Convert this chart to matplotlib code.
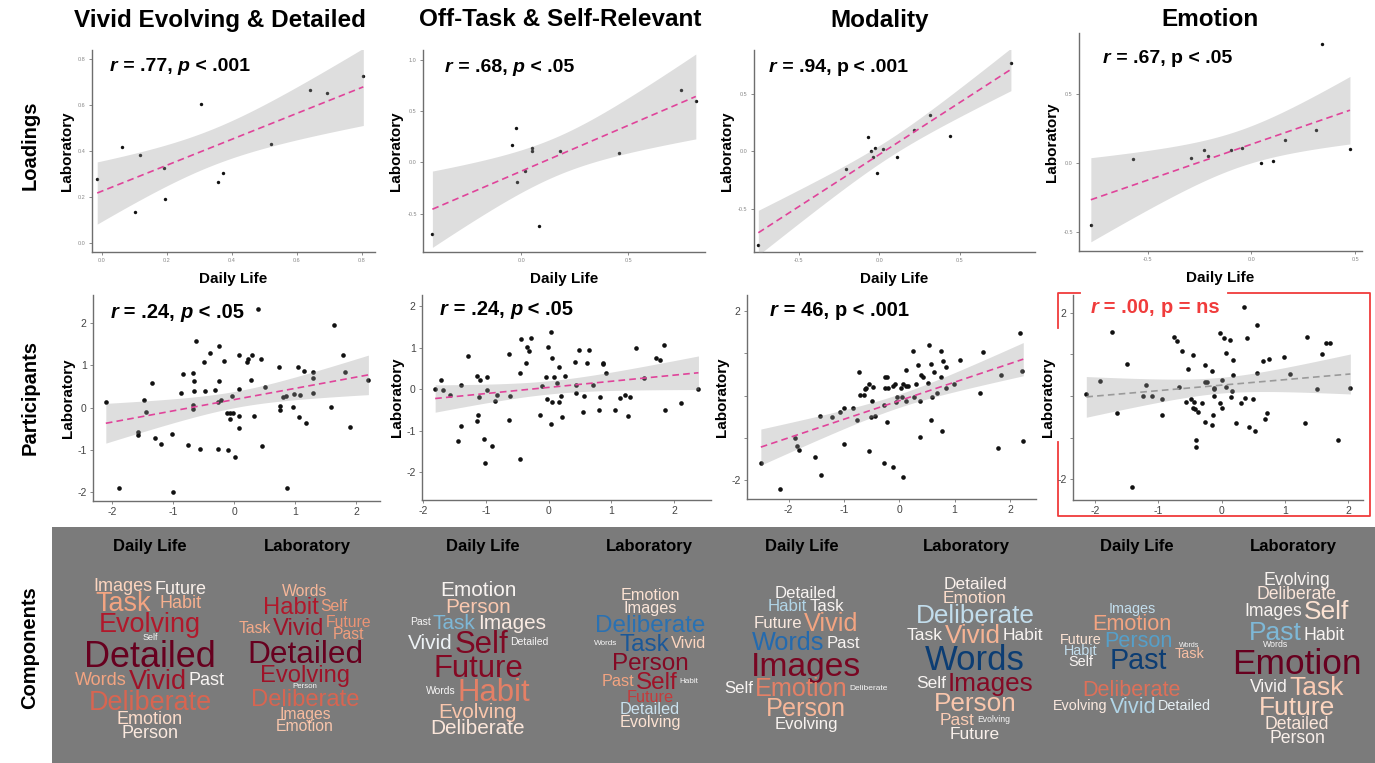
import numpy as np
import matplotlib
matplotlib.use("Agg")
import matplotlib.pyplot as plt
from matplotlib.patches import Rectangle
from matplotlib.colors import Normalize
from matplotlib.offsetbox import TextArea, HPacker, AnchoredOffsetbox

plt.rcParams['font.family'] = ['Liberation Sans', 'DejaVu Sans']

W, H = 1375, 763

titles = ["Vivid Evolving & Detailed", "Off-Task & Self-Relevant", "Modality", "Emotion"]

# ---- component loadings (daily life vs laboratory) ----
vivid_load_dl = [-0.015, 0.062, 0.10, 0.118, 0.19, 0.195, 0.305, 0.356, 0.374, 0.52, 0.64, 0.693, 0.805]
vivid_load_lab = [0.28, 0.419, 0.133, 0.383, 0.328, 0.191, 0.606, 0.267, 0.304, 0.429, 0.665, 0.652, 0.729]
offtask_load_dl = [-0.417, -0.045, -0.025, -0.02, 0.016, 0.047, 0.048, 0.081, 0.178, 0.458, 0.747, 0.816]
offtask_load_lab = [-0.701, 0.172, 0.338, -0.195, -0.084, 0.110, 0.140, -0.623, 0.110, 0.091, 0.701, 0.597]
modality_load_dl = [-0.753, -0.21, -0.073, -0.052, -0.037, -0.025, -0.017, 0.025, 0.112, 0.218, 0.313, 0.442, 0.819]
modality_load_lab = [-0.815, -0.150, 0.121, 0.003, -0.049, 0.032, -0.188, 0.020, -0.046, 0.188, 0.315, 0.130, 0.769]
emotion_load_dl = [-0.773, -0.569, -0.290, -0.227, -0.208, -0.100, -0.047, 0.044, 0.102, 0.160, 0.311, 0.340, 0.474]
emotion_load_lab = [-0.443, 0.029, 0.036, 0.096, 0.053, 0.096, 0.108, 0.0, 0.017, 0.169, 0.243, 0.863, 0.106]

# ---- participant scores ----
vivid_part_dl = [-2.10, -1.88, -1.57, -1.57, -1.48, -1.45, -1.35, -1.29, -1.20, -1.01,
                 -1.00, -0.87, -0.84, -0.75, -0.67, -0.65, -0.65, -0.68, -0.67, -0.63,
                 -0.55, -0.50, -0.47, -0.39, -0.31, -0.27, -0.27, -0.25, -0.24, -0.21,
                 -0.16, -0.11, -0.10, -0.07, -0.06, -0.02, -0.04, 0.01, 0.08, 0.08,
                 0.08, 0.08, 0.22, 0.23, 0.27, 0.29, 0.32, 0.40, 0.44, 0.46,
                 0.51, 0.74, 0.75, 0.76, 0.80, 0.85, 0.87, 0.97, 0.98, 1.05,
                 1.06, 1.08, 1.15, 1.17, 1.29, 1.30, 1.30, 1.59, 1.64, 1.79,
                 1.82, 1.90, 2.20]
vivid_part_lab = [0.12, -1.91, -0.57, -0.65, 0.18, -0.10, 0.57, -0.73, -0.87, -0.62,
                  -1.99, 0.35, 0.79, -0.88, 0.82, 0.62, 0.39, -0.03, 0.07, 1.58,
                  -0.99, 1.07, 0.40, 1.28, 0.42, 0.12, -0.99, 1.45, 0.62, 0.17,
                  1.10, -0.13, -1.00, -0.13, -0.28, -0.13, 0.28, -1.16, 1.23, 0.44,
                  -0.19, -0.48, 1.07, 1.15, 0.66, 1.24, -0.20, 2.32, 1.15, -0.90,
                  0.49, 0.96, 0.03, -0.05, 0.25, 0.28, -1.91, 0.01, 0.32, 0.95,
                  -0.23, 0.30, 0.87, -0.36, 0.34, 0.69, 0.84, 0.02, 1.95, 1.23,
                  0.84, -0.46, 0.65]
offtask_part_dl = [-1.81, -1.71, -1.69, -1.57, -1.45, -1.40, -1.39, -1.28, -1.15, -1.14,
                   -1.12, -1.11, -1.10, -1.03, -1.02, -0.99, -0.98, -0.86, -0.90, -0.83,
                   -0.64, -0.63, -0.62, -0.45, -0.45, -0.44, -0.36, -0.35, -0.31, -0.28,
                   -0.14, -0.10, -0.04, -0.02, -0.01, 0.03, 0.04, 0.05, 0.06, 0.09,
                   0.14, 0.16, 0.17, 0.20, 0.21, 0.26, 0.42, 0.43, 0.44, 0.48,
                   0.55, 0.56, 0.61, 0.64, 0.70, 0.80, 0.82, 0.86, 0.87, 0.91,
                   1.06, 1.14, 1.22, 1.26, 1.29, 1.39, 1.52, 1.72, 1.78, 1.84,
                   1.85, 2.11, 2.39]
offtask_part_lab = [0.00, 0.22, -0.02, -0.14, -1.25, -0.89, 0.10, 0.79, -0.76, 0.32,
                    -0.61, -0.18, 0.22, -1.20, -1.79, 0.30, -0.02, -0.28, -1.37, -0.13,
                    -0.75, 0.86, -0.16, 0.39, -1.69, 1.22, 0.63, 1.01, 0.93, 1.24,
                    -0.61, 0.07, 0.30, -0.23, 1.02, 1.38, -0.85, -0.32, 0.74, 0.30,
                    0.15, 0.54, -0.32, -0.17, -0.67, 0.33, 0.65, -0.08, 0.10, 0.94,
                    -0.54, -0.17, 0.62, 0.94, 0.10, -0.50, -0.18, 0.62, 0.60, 0.38,
                    -0.49, -0.21, -0.15, -0.65, -0.18, 1.00, 0.28, 0.76, 0.70, 1.06,
                    -0.51, -0.34, 0.00]
modality_part_dl = [-2.50, -2.15, -1.88, -1.85, -1.81, -1.53, -1.41, -1.43, -1.22, -1.07,
                    -1.00, -0.99, -0.83, -0.76, -0.73, -0.70, -0.63, -0.62, -0.60, -0.54,
                    -0.50, -0.51, -0.47, -0.43, -0.55, -0.28, -0.27, -0.26, -0.22, -0.26,
                    -0.20, -0.22, -0.12, -0.12, -0.08, -0.05, -0.04, 0.03, 0.05, 0.06,
                    0.07, 0.12, 0.13, 0.13, 0.16, 0.25, 0.26, 0.31, 0.34, 0.37,
                    0.38, 0.39, 0.43, 0.54, 0.52, 0.58, 0.58, 0.59, 0.63, 0.69,
                    0.75, 0.76, 0.77, 0.79, 0.84, 0.85, 0.98, 1.09, 1.46, 1.52,
                    1.79, 1.83, 2.18, 2.22, 2.24]
modality_part_lab = [-1.58, -2.20, -1.00, -1.18, -1.28, -1.46, -1.87, -0.49, -0.50, -0.40,
                     -1.14, -0.29, -0.30, -0.58, 0.55, 0.02, 0.02, 0.15, 0.18, 0.28,
                     -0.13, -0.51, 0.20, -0.48, -1.30, -1.58, -0.23, 0.44, 0.44, 0.18,
                     0.18, -0.62, -1.69, 0.22, 0.26, -0.16, -0.04, 0.18, -0.04, 0.26,
                     -1.93, -0.14, 0.59, 0.22, 0.22, 1.06, -0.04, 0.26, 0.73, -0.12,
                     -0.97, 0.49, 0.44, 1.20, 0.29, -0.58, 0.75, -0.03, 0.55, 0.05,
                     1.06, 0.43, -0.83, 0.81, 0.68, 0.17, 0.28, 0.84, 0.06, 1.02,
                     -1.24, 0.48, 1.47, 0.58, -1.07]
emotion_part_dl = [-2.14, -1.92, -1.74, -1.65, -1.49, -1.42, -1.24, -1.19, -1.10, -0.95,
                   -0.95, -0.75, -0.71, -0.67, -0.63, -0.56, -0.54, -0.48, -0.45, -0.44,
                   -0.45, -0.43, -0.41, -0.41, -0.38, -0.31, -0.27, -0.26, -0.27, -0.23,
                   -0.15, -0.15, -0.14, -0.13, -0.13, -0.13, -0.03, -0.03, 0.01, 0.01,
                   0.03, 0.06, 0.07, 0.13, 0.14, 0.16, 0.17, 0.18, 0.22, 0.31,
                   0.35, 0.37, 0.40, 0.43, 0.50, 0.52, 0.55, 0.56, 0.65, 0.69,
                   0.71, 0.74, 0.99, 1.08, 1.32, 1.34, 1.51, 1.59, 1.64, 1.71,
                   1.83, 2.03]
emotion_part_lab = [0.04, 0.36, 1.53, -0.41, 0.77, -2.18, 0.00, 0.27, 0.00, -0.07,
                    -0.45, 1.41, 1.31, 0.21, 1.07, -0.15, 0.65, -0.08, 0.99, -0.15,
                    -0.29, -0.32, -1.06, -1.23, -0.38, -0.18, 0.75, 0.33, -0.63, 0.34,
                    0.59, -0.70, -0.47, 0.20, 0.16, 0.00, 1.51, -0.17, 0.37, -0.28,
                    1.40, 0.22, 1.03, 1.35, -0.02, 0.11, 0.86, 0.51, -0.64, -0.16,
                    2.14, -0.06, 1.39, -0.74, -0.08, -0.84, 1.70, 0.54, 0.84, -0.55,
                    -0.42, 0.89, 0.94, 0.52, -0.66, 1.42, 0.17, 1.00, 1.27, 1.28,
                    -1.07, 0.18]

load_r = [".77", ".68", ".94", ".67"]
load_p = ["< .001", "< .05", "< .001", "< .05"]
load_p_italic = [True, True, False, False]
part_r = [".24", ".24", "46", ".00"]
part_p = ["< .05", "< .05", "< .001", "= ns"]
part_p_italic = [True, True, False, False]

# ---- word clouds: lines of words ('/' stacks words in one cell), size level, loading ----
vivid_dl_lines = ["Images/Task Future/Habit", "Evolving", "Self", "Detailed", "Words Vivid Past",
                  "Deliberate", "Emotion", "Person"]
vivid_dl_level = dict(Images=2, Task=3, Future=2, Habit=2, Evolving=3, Self=1, Detailed=4, Words=2,
                      Vivid=3, Past=2, Deliberate=3, Emotion=2, Person=2)
vivid_dl_loading = dict(Images=0.22, Task=0.4, Future=0.06, Habit=0.36, Evolving=0.8, Self=0.0, Detailed=1.0,
                        Words=0.4, Vivid=0.85, Past=0.02, Deliberate=0.58, Emotion=0.18, Person=0.1)
vivid_lab_lines = ["Words", "Habit Self", "Task Vivid Future/Past", "Detailed", "Evolving", "Person",
                   "Deliberate", "Images", "Emotion"]
vivid_lab_level = dict(Words=2, Habit=3, Self=2, Future=2, Task=2, Vivid=3, Past=2, Detailed=4, Evolving=3,
                       Person=1, Deliberate=3, Images=2, Emotion=2)
vivid_lab_loading = dict(Words=0.33, Habit=0.8, Self=0.42, Future=0.45, Task=0.38, Vivid=0.85, Past=0.42,
                         Detailed=1.0, Evolving=0.85, Person=0.0, Deliberate=0.58, Images=0.32, Emotion=0.28)
offtask_dl_lines = ["Emotion", "Person", "Past Task Images", "Vivid Self Detailed", "Future", "Words Habit",
                    "Evolving", "Deliberate"]
offtask_dl_level = dict(Emotion=2, Person=2, Task=2, Images=2, Past=1, Vivid=2, Self=3, Detailed=1, Future=3,
                        Words=1, Habit=3, Evolving=2, Deliberate=2)
offtask_dl_loading = dict(Emotion=0.03, Person=0.27, Task=-0.45, Images=0.08, Past=0.0, Vivid=-0.05, Self=0.93,
                          Detailed=0.0, Future=0.92, Words=0.0, Habit=0.5, Evolving=0.28, Deliberate=0.12)
offtask_lab_lines = ["Emotion", "Images", "Deliberate", "Words Task Vivid", "Person", "Past Self Habit",
                     "Future", "Detailed", "Evolving"]
offtask_lab_level = dict(Emotion=2, Images=2, Deliberate=3, Words=1, Task=3, Vivid=2, Person=3, Past=2, Self=3,
                         Habit=1, Future=2, Detailed=2, Evolving=2)
offtask_lab_loading = dict(Emotion=0.15, Images=0.12, Deliberate=-0.75, Words=0.0, Task=-0.85, Vivid=0.22,
                           Person=0.92, Past=0.4, Self=0.85, Habit=0.0, Future=0.7, Detailed=-0.22, Evolving=0.15)
modality_dl_lines = ["Detailed", "Habit Task", "Future Vivid", "Words Past", "Images",
                     "Self Emotion Deliberate", "Person", "Evolving"]
modality_dl_level = dict(Detailed=2, Habit=2, Task=2, Future=2, Vivid=3, Words=3, Past=2, Images=4, Self=2,
                         Deliberate=1, Emotion=3, Person=3, Evolving=2)
modality_dl_loading = dict(Detailed=0.02, Habit=-0.3, Task=0.02, Future=0.1, Vivid=0.4, Words=-0.78, Past=0.02,
                           Images=0.95, Self=0.02, Deliberate=0.0, Emotion=0.5, Person=0.33, Evolving=0.03)
modality_lab_lines = ["Detailed", "Emotion", "Deliberate", "Task Vivid Habit", "Words", "Self Images",
                      "Person", "Past Evolving", "Future"]
modality_lab_level = dict(Detailed=2, Emotion=2, Deliberate=3, Task=2, Vivid=3, Habit=2, Words=4, Self=2,
                          Images=3, Person=3, Past=2, Evolving=1, Future=2)
modality_lab_loading = dict(Detailed=0.05, Emotion=0.18, Deliberate=-0.25, Task=0.02, Vivid=0.35, Habit=0.02,
                            Words=-0.95, Self=0.02, Images=0.92, Person=0.28, Past=0.25, Evolving=0.0, Future=0.05)
emotion_dl_lines = ["Images", "Emotion", "Future/Habit/Self Person/Past Words/Task", "", "Deliberate",
                    "Evolving Vivid Detailed"]
emotion_dl_level = dict(Images=2, Emotion=3, Future=2, Person=3, Habit=2, Self=2, Past=4, Words=1, Task=2,
                        Deliberate=3, Evolving=2, Vivid=3, Detailed=2)
emotion_dl_loading = dict(Images=-0.25, Emotion=0.4, Future=0.15, Person=-0.55, Habit=-0.25, Self=0.02,
                          Past=-0.95, Words=0.0, Task=0.3, Deliberate=0.55, Evolving=0.1, Vivid=-0.3,
                          Detailed=-0.08)
emotion_lab_lines = ["Evolving", "Deliberate", "Images Self", "Past/Words Habit", "Emotion", "Vivid Task",
                     "Future", "Detailed", "Person"]
emotion_lab_level = dict(Evolving=2, Deliberate=2, Images=2, Self=3, Past=3, Words=1, Habit=2, Emotion=4,
                         Vivid=2, Task=3, Future=3, Detailed=2, Person=2)
emotion_lab_loading = dict(Evolving=0.03, Deliberate=0.12, Images=0.03, Self=0.15, Past=-0.45, Words=0.0,
                           Habit=0.02, Emotion=1.0, Vivid=0.02, Task=0.25, Future=0.22, Detailed=0.12,
                           Person=0.05)

fig = plt.figure(figsize=(W / 100, H / 100), dpi=100)
ov = fig.add_axes([0, 0, 1, 1], zorder=-1)
ov.set_xlim(0, W)
ov.set_ylim(H, 0)
ov.axis('off')


def px_axes(l, t, r, b):
    return fig.add_axes([l / W, 1 - b / H, (r - l) / W, (b - t) / H])


def t_crit(df, z=1.959964):
    return z + (z ** 3 + z) / (4 * df) + (5 * z ** 5 + 16 * z ** 3 + 3 * z) / (96 * df ** 2)


def add_fit(ax, x, y, color):
    x = np.asarray(x, float)
    y = np.asarray(y, float)
    n = len(x)
    slope, icpt = np.polyfit(x, y, 1)
    xs = np.linspace(x.min(), x.max(), 200)
    fit = icpt + slope * xs
    resid = y - (icpt + slope * x)
    s = np.sqrt(np.sum(resid ** 2) / (n - 2))
    se = s * np.sqrt(1 / n + (xs - x.mean()) ** 2 / np.sum((x - x.mean()) ** 2))
    band = t_crit(n - 2) * se
    ax.fill_between(xs, fit - band, fit + band, color='#999999', alpha=0.32, lw=0, zorder=3)
    ax.plot(xs, fit, color=color, lw=1.2, ls=(0, (4, 2.5)), zorder=4)


def style_axes(ax, xlim, ylim, xticks, yticks, xlabels, ylabels, fs, lc):
    ax.set_xlim(*xlim)
    ax.set_ylim(*ylim)
    ax.set_xticks(xticks)
    ax.set_xticklabels(xlabels)
    ax.set_yticks(yticks)
    ax.set_yticklabels(ylabels)
    for side in ('top', 'right'):
        ax.spines[side].set_visible(False)
    for side in ('left', 'bottom'):
        ax.spines[side].set_color('#6e6e6e')
        ax.spines[side].set_linewidth(1.0)
    ax.tick_params(length=2.5, width=0.6, color='#777777', labelsize=fs, labelcolor=lc, pad=2)


def stat_label(ax, r, p, p_it, x, y, color='black', fs=14):
    props = dict(fontsize=fs, fontweight='bold', color=color)
    parts = [TextArea('r', textprops=dict(props, fontstyle='italic')),
             TextArea(' = ' + r + ', ', textprops=props),
             TextArea('p', textprops=dict(props, fontstyle='italic' if p_it else 'normal')),
             TextArea(' ' + p, textprops=props)]
    box = HPacker(children=parts, align='baseline', pad=0, sep=0)
    ab = AnchoredOffsetbox(loc='upper left', child=box, pad=0, borderpad=0, frameon=False,
                           bbox_to_anchor=(x, y), bbox_transform=ax.transAxes)
    ax.add_artist(ab)


# ---- top row: loadings ----
load_x = [vivid_load_dl, offtask_load_dl, modality_load_dl, emotion_load_dl]
load_y = [vivid_load_lab, offtask_load_lab, modality_load_lab, emotion_load_lab]
top_boxes = [(92, 50, 375, 252), (423, 50, 705, 252), (754, 50, 1035, 252), (1079, 33, 1362, 251)]
top_xlims = [(-0.031, 0.841), (-0.461, 0.859), (-0.78, 0.969), (-0.83, 0.532)]
top_ylims = [(-0.039, 0.84), (-0.873, 1.094), (-0.873, 0.879), (-0.634, 0.94)]
top_xticks = [[0, 0.2, 0.4, 0.6, 0.8], [0, 0.5], [-0.5, 0, 0.5], [-0.5, 0, 0.5]]
top_yticks = [[0, 0.2, 0.4, 0.6, 0.8], [-0.5, 0, 0.5, 1.0], [-0.5, 0, 0.5], [-0.5, 0, 0.5]]
top_text = [(0.064, 0.96), (0.078, 0.957), (0.053, 0.957), (0.085, 0.922)]

for i in range(4):
    ax = px_axes(*top_boxes[i])
    ax.scatter(load_x[i], load_y[i], s=6, color='#111111', lw=0, zorder=2)
    add_fit(ax, load_x[i], load_y[i], '#e0449a')
    style_axes(ax, top_xlims[i], top_ylims[i], top_xticks[i], top_yticks[i],
               ['%.1f' % v for v in top_xticks[i]], ['%.1f' % v for v in top_yticks[i]], 4, '#888888')
    ax.set_xlabel('Daily Life', fontsize=11, fontweight='bold', labelpad=6)
    ax.set_ylabel('Laboratory', fontsize=11, fontweight='bold', labelpad=3)
    stat_label(ax, load_r[i], load_p[i], load_p_italic[i], *top_text[i])

# ---- middle row: participants ----
part_x = [vivid_part_dl, offtask_part_dl, modality_part_dl, emotion_part_dl]
part_y = [vivid_part_lab, offtask_part_lab, modality_part_lab, emotion_part_lab]
mid_boxes = [(93, 295, 380, 501), (422, 295, 711, 500), (747, 295, 1036, 499), (1073, 295, 1363, 500)]
mid_xlims = [(-2.31, 2.39), (-2.02, 2.59), (-2.75, 2.47), (-2.35, 2.23)]
mid_ylims = [(-2.21, 2.66), (-2.67, 2.27), (-2.44, 2.37), (-2.50, 2.42)]
mid_ticks = [-2, -1, 0, 1, 2]
mid_ylabels = [['-2', '-1', '0', '1', '2'], ['-2', '-1', '0', '1', '2'],
               ['-2', '', '', '', '2'], ['-2', '', '', '', '2']]
mid_text = [(0.06, 0.96), (0.062, 0.977), (0.08, 0.973), (0.06, 0.985)]
mid_colors = ['#e0449a', '#e0449a', '#e0449a', '#9a9a9a']
red = '#f03c3c'

for i in range(4):
    ax = px_axes(*mid_boxes[i])
    ax.scatter(part_x[i], part_y[i], s=11, color='#111111', lw=0, zorder=2)
    add_fit(ax, part_x[i], part_y[i], mid_colors[i])
    style_axes(ax, mid_xlims[i], mid_ylims[i], mid_ticks, mid_ticks,
               ['-2', '-1', '0', '1', '2'], mid_ylabels[i], 7.5, '#444444')
    ax.set_ylabel('Laboratory', fontsize=11, fontweight='bold', labelpad=2)
    stat_label(ax, part_r[i], part_p[i], part_p_italic[i], *mid_text[i],
               color=red if i == 3 else 'black', fs=14.5)

# red frame around the non-significant emotion panel
ov.plot([1080, 1058, 1058], [293, 293, 328], color=red, lw=1.3)
ov.plot([1058, 1058, 1370, 1370, 1228], [442, 516, 516, 293, 293], color=red, lw=1.3)

# ---- titles and row labels ----
title_x = [220, 560, 880, 1210]
for tx, t in zip(title_x, titles):
    fig.text(tx / W, 1 - 20 / H, t, ha='center', va='center', fontsize=17.5, fontweight='bold')
for ry, lab in [(145, 'Loadings'), (398, 'Participants'), (648, 'Components')]:
    fig.text(30 / W, 1 - ry / H, lab, rotation=90, ha='center', va='center', fontsize=14.5, fontweight='bold')

# ---- bottom: word clouds ----
ov.add_patch(Rectangle((52, 527), W - 52, H - 527, facecolor='#7b7b7b', edgecolor='none'))

cmap = plt.get_cmap('RdBu_r')
norm = Normalize(-1, 1)
renderer = fig.canvas.get_renderer()
ROW = 0.78


def draw_cloud(cx, cy, scale, lines, level, loading):
    rows = []
    for line in lines:
        if not line:
            rows.append(None)
            continue
        cells = []
        for cell in line.split():
            items = []
            for w in cell.split('/'):
                s = scale * level[w]
                t = ov.text(0, 0, w, fontsize=s * 0.72, color=cmap(norm(loading[w])),
                            ha='left', va='baseline')
                items.append((t, t.get_window_extent(renderer).width, s))
            cells.append(items)
        rows.append(cells)
    heights = []
    for cells in rows:
        if cells is None:
            heights.append(10)
        else:
            heights.append(max(sum(s * ROW for _, _, s in items) for items in cells))
    y = cy - sum(heights) / 2
    for cells, h in zip(rows, heights):
        if cells is None:
            y += h
            continue
        widths = [max(wd for _, wd, _ in items) for items in cells]
        x = cx - (sum(widths) + 2 * (len(cells) - 1)) / 2
        for items, cw in zip(cells, widths):
            ch = sum(s * ROW for _, _, s in items)
            yy = y + (h - ch) / 2
            for t, wd, s in items:
                yy += s * ROW
                t.set_position((x + (cw - wd) / 2, yy - s * 0.04))
            x += cw + 2
        y += h


clouds = [
    (150, 9.0, vivid_dl_lines, vivid_dl_level, vivid_dl_loading),
    (305, 7.9, vivid_lab_lines, vivid_lab_level, vivid_lab_loading),
    (478, 10.4, offtask_dl_lines, offtask_dl_level, offtask_dl_loading),
    (650, 8.1, offtask_lab_lines, offtask_lab_level, offtask_lab_loading),
    (806, 8.4, modality_dl_lines, modality_dl_level, modality_dl_loading),
    (975, 8.7, modality_lab_lines, modality_lab_level, modality_lab_loading),
    (1132, 7.2, emotion_dl_lines, emotion_dl_level, emotion_dl_loading),
    (1297, 8.8, emotion_lab_lines, emotion_lab_level, emotion_lab_loading),
]
for cx, sc, lines, lev, ld in clouds:
    draw_cloud(cx, 658, sc, lines, lev, ld)

head_x = [(150, 307), (483, 649), (802, 966), (1137, 1293)]
for dx, lx in head_x:
    ov.text(dx, 547, 'Daily Life', ha='center', va='center', fontsize=12, fontweight='bold')
    ov.text(lx, 547, 'Laboratory', ha='center', va='center', fontsize=12, fontweight='bold')

fig.savefig('out.png', dpi=100)
